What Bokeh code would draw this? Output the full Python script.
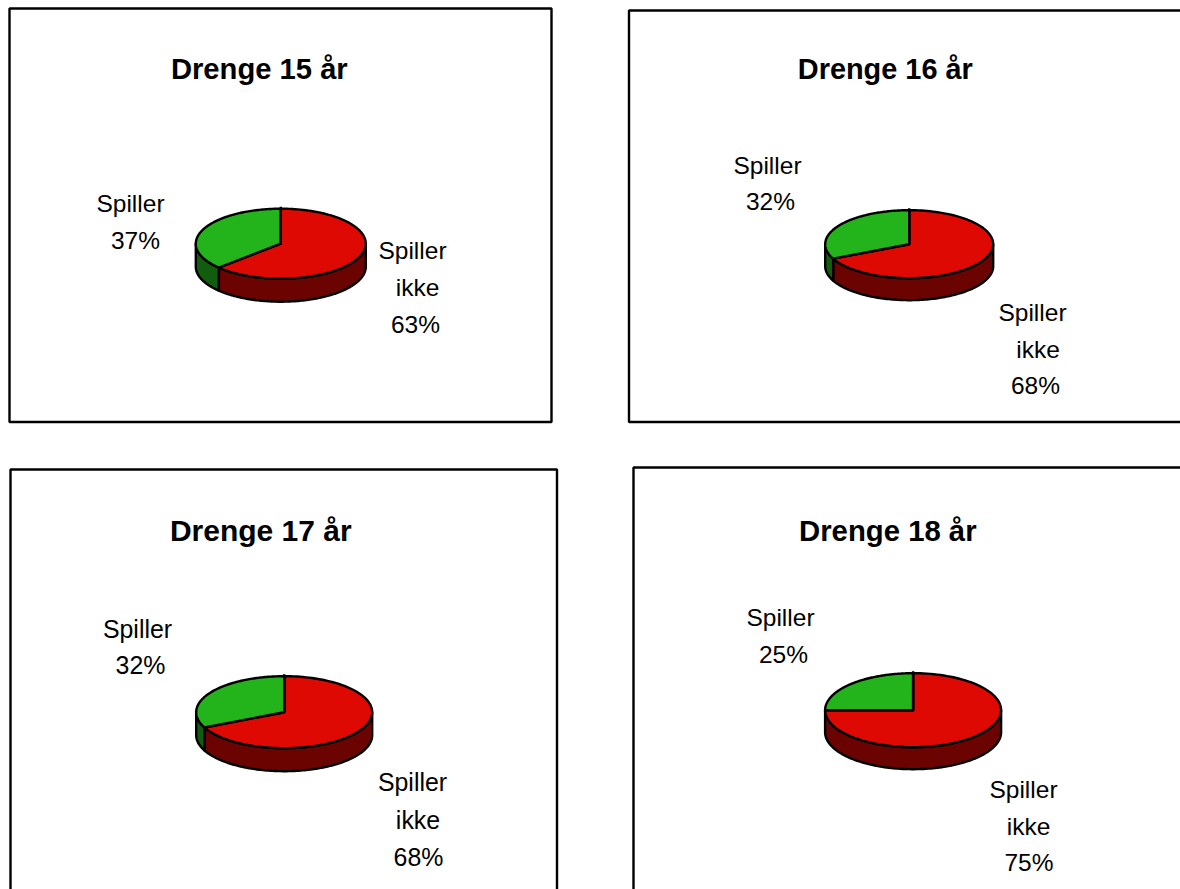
import numpy as np
from bokeh.core.properties import value
from bokeh.embed import file_html
from bokeh.models import Range1d
from bokeh.plotting import figure
from bokeh.resources import INLINE

# Survey shares per age group (percent)
titles = ["Drenge 15 år", "Drenge 16 år", "Drenge 17 år", "Drenge 18 år"]
spiller_ikke = [63, 68, 68, 75]
spiller = [37, 32, 32, 25]

# Panel frames: left, right, top, bottom in page pixels (some run off the page)
frames = [(9, 551, 8, 421.5), (628.5, 1195, 10, 421.5),
          (10, 556.5, 469, 905), (633, 1195, 467, 905)]

# Ellipse layout of each pie: centre x, centre y, radius x, radius y, rim depth
pies = [(280.3, 243.2, 85, 35, 23), (908.7, 243.7, 84, 34, 22),
        (283.7, 711.7, 88, 36, 23), (912.6, 709.7, 88, 37, 22)]

# Title anchor and font sizes (px) per panel
title_pos = [(258.8, 68), (884.8, 68), (260.3, 530), (887.3, 530)]
title_size = [29.2, 28.9, 30.0, 29.3]
label_size = [24.5, 24.5, 24.9, 24.5]

# Text line centres: "Spiller", its percent, then the three "Spiller ikke" lines
left_lines = [[(130, 203), (135, 240)], [(767, 165), (770, 201)],
              [(137, 628), (140, 664)], [(780, 617), (783, 654)]]
right_lines = [[(412, 250), (417, 287), (415, 324)],
               [(1032, 312), (1037.5, 349), (1035, 385)],
               [(412, 781), (417.5, 819), (418, 856)],
               [(1023, 789), (1028, 826), (1028.5, 862)]]

RED, DARK_RED = "#DF0904", "#6B0300"
GREEN, DARK_GREEN = "#22B41A", "#115C0D"
OUTLINE = 2.4
FONT = value("Liberation Sans")


def arc(pie, a0, a1, drop=0.0, n=120):
    """Points on the ellipse, with angles in degrees clockwise from 12 o'clock."""
    cx, cy, rx, ry, _ = pie
    t = np.radians(np.linspace(a0, a1, n))
    return cx + rx * np.sin(t), cy - ry * np.cos(t) + drop


def draw_rim(p, pie, a0, a1, color):
    if a1 - a0 < 1e-6:
        return
    x0, y0 = arc(pie, a0, a1)
    x1, y1 = arc(pie, a1, a0, drop=pie[4])
    p.patch(np.r_[x0, x1], np.r_[y0, y1], fill_color=color,
            line_color="black", line_width=OUTLINE, line_join="round")


def draw_slice(p, pie, a0, a1, color):
    x, y = arc(pie, a0, a1)
    p.patch(np.r_[pie[0], x], np.r_[pie[1], y], fill_color=color,
            line_color="black", line_width=OUTLINE, line_join="round")


def put_text(p, x, y, text, size, style="normal"):
    p.text([x], [y], text=[text], text_font=FONT, text_font_size=f"{size}px",
           text_font_style=style, text_align="center", text_baseline="middle",
           text_color="black")


p = figure(width=1180, height=889, output_backend="svg", toolbar_location=None,
           x_range=Range1d(0, 1180), y_range=Range1d(889, 0), min_border=0,
           outline_line_color=None, background_fill_color="white")
p.axis.visible = False
p.grid.visible = False

for i, title in enumerate(titles):
    left, right, top, bottom = frames[i]
    p.quad(left=[left], right=[right], top=[top], bottom=[bottom], fill_color="white",
           line_color="black", line_width=2.4)

    pie = pies[i]
    boundary = 3.6 * spiller_ikke[i]
    draw_rim(p, pie, 90, min(boundary, 270), DARK_RED)
    draw_rim(p, pie, min(boundary, 270), 270, DARK_GREEN)
    draw_slice(p, pie, 0, boundary, RED)
    draw_slice(p, pie, boundary, 360, GREEN)

    # The 12 o'clock spoke pokes just past the rim of the ellipse
    p.line([pie[0], pie[0]], [pie[1], pie[1] - pie[3] - 2], line_color="black",
           line_width=OUTLINE)

    put_text(p, *title_pos[i], title, title_size[i], "bold")

    size = label_size[i]
    (x, y), (xv, yv) = left_lines[i]
    put_text(p, x, y, "Spiller", size)
    put_text(p, xv, yv, f"{spiller[i]}%", size)
    (x0, y0), (x1, y1), (x2, y2) = right_lines[i]
    put_text(p, x0, y0, "Spiller", size)
    put_text(p, x1, y1, "ikke", size)
    put_text(p, x2, y2, f"{spiller_ikke[i]}%", size)

open("out.html", "w").write(file_html(p, INLINE))
